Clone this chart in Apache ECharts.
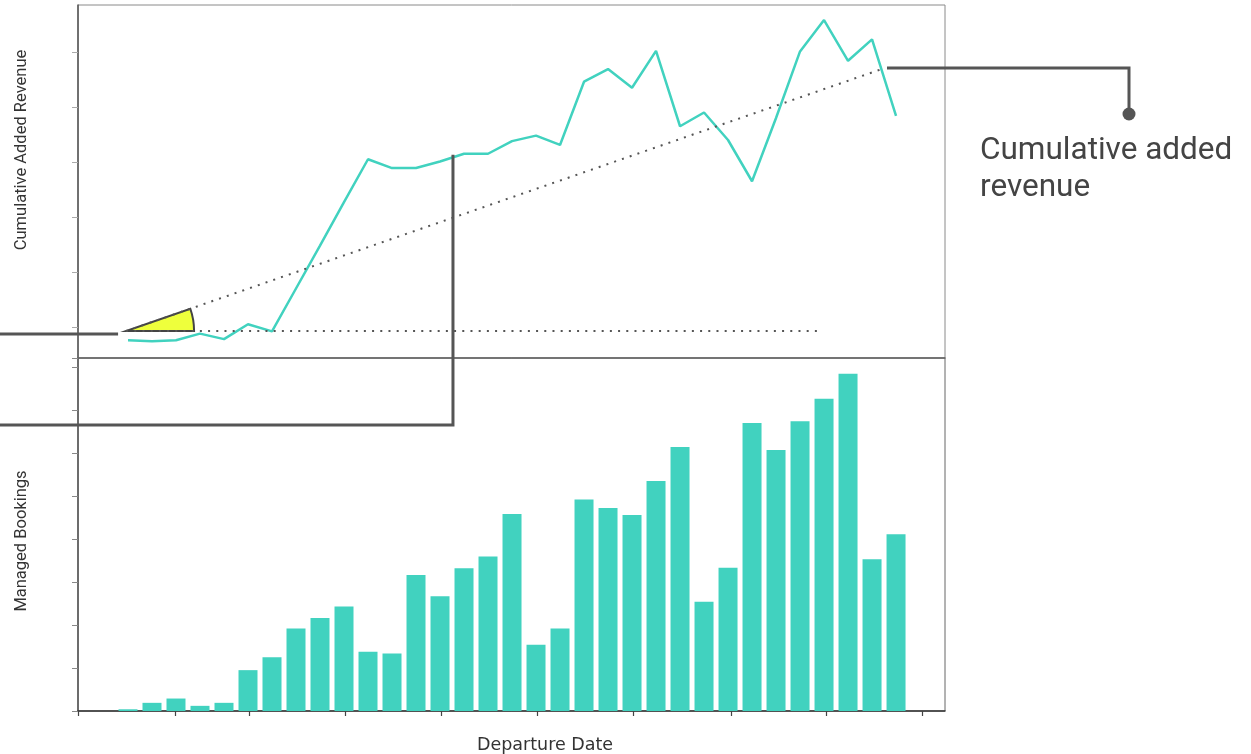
<!DOCTYPE html>
<html>
<head>
<meta charset="utf-8">
<script src="https://cdn.jsdelivr.net/npm/echarts@6/dist/echarts.min.js"></script>
<style>
  html, body { margin: 0; padding: 0; background: #ffffff; }
  #chart { width: 1251px; height: 754px; }
</style>
</head>
<body>
<div id="chart"></div>
<script>
// Weekly departure buckets (index along the departure-date axis)
const weeks = [0, 1, 2, 3, 4, 5, 6, 7, 8, 9, 10, 11, 12, 13, 14, 15, 16,
               17, 18, 19, 20, 21, 22, 23, 24, 25, 26, 27, 28, 29, 30, 31, 32];

// Cumulative added revenue per week
const cumulativeRevenue = [-2.4, -2.6, -2.4, -1.2, -2.2, 0.5, -0.8, 7.0, 14.8, 22.7,
                           30.5, 28.9, 28.9, 30.1, 31.5, 31.5, 33.8, 34.8, 33.1, 44.6,
                           46.9, 43.5, 50.2, 36.5, 39.0, 34.0, 26.5, 38.0, 50.1, 55.8,
                           48.4, 52.3, 38.4];

// Managed bookings per week
const managedBookings = [0.4, 1.9, 2.9, 1.2, 1.9, 9.5, 12.5, 19.2, 21.6, 24.3,
                         13.8, 13.4, 31.6, 26.7, 33.2, 35.9, 45.8, 15.4, 19.2, 49.2,
                         47.2, 45.6, 53.5, 61.4, 25.4, 33.3, 67.0, 60.7, 67.4, 72.6,
                         78.4, 35.3, 41.1];

// Tick positions on the departure-date axis (labels are left blank)
const dateTicks = [-2.08, 1.96, 5.04, 9.04, 13.04, 17.04, 21.04, 25.12, 29.08, 33.08];
const revenueTicks = [0, 10, 20, 30, 40, 50];

// Trend reference: start point, end of the rising trend, end of the flat baseline
const trendStart = [-0.08, -0.73];
const trendEnd = [31.54, 47.1];
const baselineEnd = [28.8, -0.73];

// Point on the revenue line picked out by the left callout
const calloutPoint = [13.54, 31.3];

const X_MIN = -2.083, X_MAX = 34.04;
const TEAL = '#41d2bf';
const AXIS = '#555555';

const chart = echarts.init(document.getElementById('chart'), null, { renderer: 'canvas' });

const xBase = {
  type: 'value', min: X_MIN, max: X_MAX,
  splitLine: { show: false },
  axisLabel: { show: false }
};

chart.setOption({
  animation: false,
  backgroundColor: '#ffffff',
  grid: [
    { left: 78, right: 306, top: 5, height: 353, show: true, borderColor: '#8a8a8a', borderWidth: 1 },
    { left: 78, right: 306, top: 358, height: 353, show: true, borderColor: '#666666', borderWidth: 1 }
  ],
  xAxis: [
    Object.assign({}, xBase, {
      gridIndex: 0,
      axisLine: { show: true, onZero: false, lineStyle: { color: '#6a6a6a', width: 1.5 } },
      axisTick: { show: false }
    }),
    Object.assign({}, xBase, {
      gridIndex: 1,
      axisLine: { show: true, onZero: false, lineStyle: { color: '#333333', width: 1.5 } },
      axisTick: { show: true, length: 5, customValues: dateTicks, lineStyle: { color: '#444444', width: 1.2 } }
    })
  ],
  yAxis: [
    {
      type: 'value', gridIndex: 0, min: -5.636, max: 58.545,
      splitLine: { show: false },
      axisLabel: { show: false },
      axisLine: { show: true, onZero: false, lineStyle: { color: AXIS, width: 1.5 } },
      axisTick: { show: true, length: 6, customValues: revenueTicks, lineStyle: { color: '#aaaaaa' } }
    },
    {
      type: 'value', gridIndex: 1, min: 0, max: 82.09, interval: 10,
      splitLine: { show: false },
      axisLabel: { show: false },
      axisLine: { show: true, onZero: false, lineStyle: { color: AXIS, width: 1.5 } },
      axisTick: { show: true, length: 6, lineStyle: { color: '#888888' } }
    }
  ],
  series: [
    {
      name: 'Cumulative Added Revenue',
      type: 'line',
      xAxisIndex: 0, yAxisIndex: 0,
      data: weeks.map((w, i) => [w, cumulativeRevenue[i]]),
      showSymbol: false,
      lineStyle: { color: TEAL, width: 2.5 },
      z: 3
    },
    {
      name: 'Trend',
      type: 'line',
      xAxisIndex: 0, yAxisIndex: 0,
      data: [trendStart, trendEnd],
      showSymbol: false,
      lineStyle: { color: '#555555', width: 2, type: [2, 6.2] },
      z: 5
    },
    {
      name: 'Baseline',
      type: 'line',
      xAxisIndex: 0, yAxisIndex: 0,
      data: [trendStart, baselineEnd],
      showSymbol: false,
      lineStyle: { color: '#555555', width: 2, type: [2, 6.2] },
      z: 5
    },
    {
      name: 'Managed Bookings',
      type: 'bar',
      xAxisIndex: 1, yAxisIndex: 1,
      data: weeks.map((w, i) => [w, managedBookings[i]]),
      barWidth: 19,
      itemStyle: { color: TEAL }
    }
  ]
});

// Annotation layer, anchored to the data through the axes
const s = chart.convertToPixel({ gridIndex: 0 }, trendStart);
const e = chart.convertToPixel({ gridIndex: 0 }, trendEnd);
const c = chart.convertToPixel({ gridIndex: 0 }, calloutPoint);
const elbowY = chart.convertToPixel({ gridIndex: 1 }, [0, 66.5])[1];
const angle = Math.atan2(e[1] - s[1], e[0] - s[0]);
const CALL = '#555555';

chart.setOption({
  graphic: [
    {
      type: 'sector', z: 1,
      shape: { cx: s[0], cy: s[1], r: 68, r0: 0, startAngle: angle, endAngle: 0, clockwise: true },
      style: { fill: '#eeff3c', stroke: '#444444', lineWidth: 2 }
    },
    {
      type: 'polyline', z: 10,
      shape: { points: [[0, s[1] + 3], [s[0] - 8, s[1] + 3]] },
      style: { stroke: CALL, lineWidth: 3, fill: null }
    },
    {
      type: 'polyline', z: 10,
      shape: { points: [[0, elbowY], [c[0], elbowY], [c[0], c[1]]] },
      style: { stroke: CALL, lineWidth: 3, fill: null }
    },
    {
      type: 'polyline', z: 10,
      shape: { points: [[e[0] + 2, e[1]], [1129, e[1]], [1129, 114]] },
      style: { stroke: CALL, lineWidth: 3, fill: null }
    },
    {
      type: 'circle', z: 10,
      shape: { cx: 1129, cy: 114, r: 6.5 },
      style: { fill: CALL }
    },
    {
      type: 'text', z: 10, left: 980, top: 133,
      style: {
        text: 'Cumulative added\nrevenue',
        font: '31.5px Roboto', fill: '#444444', lineHeight: 37
      }
    },
    {
      type: 'text', z: 10,
      x: 22, y: 150, rotation: Math.PI / 2,
      style: {
        text: 'Cumulative Added Revenue', font: '16.5px Roboto', fill: '#333333',
        align: 'center', verticalAlign: 'middle'
      }
    },
    {
      type: 'text', z: 10,
      x: 22, y: 541, rotation: Math.PI / 2,
      style: {
        text: 'Managed Bookings', font: '16.5px Roboto', fill: '#333333',
        align: 'center', verticalAlign: 'middle'
      }
    },
    {
      type: 'text', z: 10,
      x: 545, y: 745,
      style: {
        text: 'Departure Date', font: '17.5px "DejaVu Sans"', fill: '#333333',
        align: 'center', verticalAlign: 'middle'
      }
    }
  ]
});
</script>
</body>
</html>
